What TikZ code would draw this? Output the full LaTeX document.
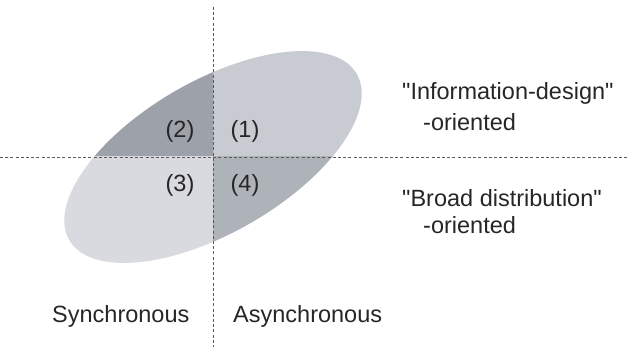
\documentclass[tikz,border=0pt]{standalone}
\usepackage{fontspec}
\setmainfont{Liberation Sans}[Ligatures=TeXOff]
\begin{document}
\begin{tikzpicture}[x=1pt,y=1pt,
  lbl/.style={inner sep=0pt, font=\fontsize{23.5}{28}\selectfont, text=black!85},
  guide/.style={draw=black!65, line width=0.9pt, dash pattern=on 3pt off 2.2pt}]
\definecolor{qone}{HTML}{C8CBD2}
\definecolor{qtwo}{HTML}{9DA1A9}
\definecolor{qthree}{HTML}{D9DADF}
\definecolor{qfour}{HTML}{AEB2B9}
\useasboundingbox (0,0) rectangle (629,347);
\coordinate (c) at (213,190);
% quadrants of the ellipse
\begin{scope}
  \clip (213,190) rectangle (629,347);
  \fill[qone] (c) ellipse[x radius=166, y radius=76, rotate=30];
\end{scope}
\begin{scope}
  \clip (0,190) rectangle (213,347);
  \fill[qtwo] (c) ellipse[x radius=166, y radius=76, rotate=30];
\end{scope}
\begin{scope}
  \clip (0,0) rectangle (213,190);
  \fill[qthree] (c) ellipse[x radius=166, y radius=76, rotate=30];
\end{scope}
\begin{scope}
  \clip (213,0) rectangle (629,190);
  \fill[qfour] (c) ellipse[x radius=166, y radius=76, rotate=30];
\end{scope}
% guides
\coordinate (vt) at (213,340);
\coordinate (vb) at (213,0);
\coordinate (hl) at (0,190);
\coordinate (hr) at (629,190);
\draw[guide] (vt) -- (vb);
\draw[guide] (hl) -- (hr);
% quadrant labels
\node[lbl] (q2) at (180,216) {(2)};
\node[lbl] (q1) at (245,216) {(1)};
\node[lbl] (q3) at (180,162) {(3)};
\node[lbl] (q4) at (245,162) {(4)};
% right texts
\node[lbl, anchor=west] (info) at (402,254) {"Information-design"};
\node[lbl, anchor=west] (infoo) at (423,225) {-oriented};
\node[lbl, anchor=west] (broad) at (402,149) {"Broad distribution"};
\node[lbl, anchor=west] (broado) at (423,122) {-oriented};
% bottom texts
\node[lbl, anchor=west] (sync) at (52,31) {Synchronous};
\node[lbl, anchor=west] (async) at (233,31) {Asynchronous};
\end{tikzpicture}
\end{document}
